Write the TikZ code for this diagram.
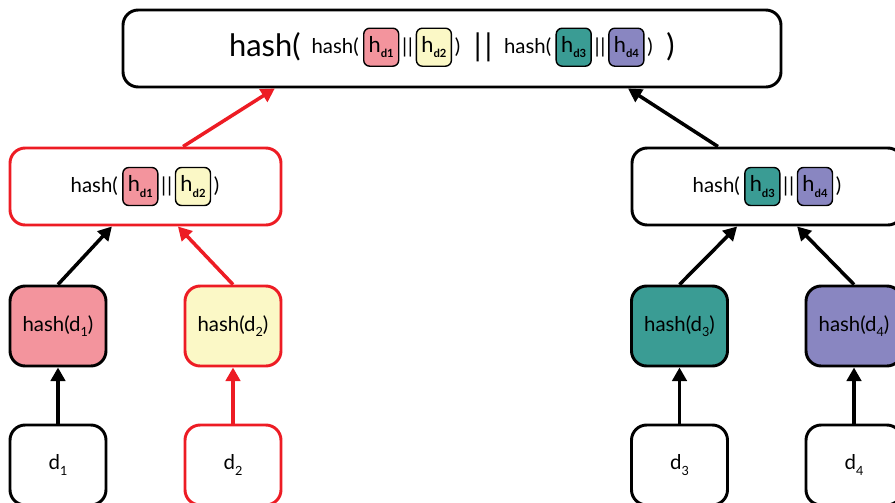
\documentclass[tikz,border=0pt]{standalone}
\usepackage{fontspec}
\setmainfont{Lato}
\usetikzlibrary{positioning,arrows.meta}
\definecolor{hred}{HTML}{ED1C24}
\definecolor{hpink}{HTML}{F3949D}
\definecolor{hyellow}{HTML}{FBF8C6}
\definecolor{hteal}{HTML}{3A9C94}
\definecolor{hpurple}{HTML}{8986C1}
\newcommand{\hdsub}[1]{\raisebox{-0.5ex}{\fontsize{8}{8}\selectfont\bfseries #1}}
\newcommand{\dsub}[1]{\raisebox{-0.5ex}{\fontsize{9}{9}\selectfont #1}}
\newcommand{\bars}{|\kern0.5pt|}

\begin{document}
\begin{tikzpicture}[
        box/.style={draw, line width=2.1pt, rounded corners=0.38cm},
        wide/.style={box, minimum width=6.775cm, minimum height=1.925cm},
        leaf/.style={box, minimum width=2.4cm, minimum height=2cm, font=\fontsize{14.5}{16}\selectfont},
        sm/.style={inner sep=0pt, font=\fontsize{14.5}{16}\selectfont},
        big/.style={inner sep=0pt, font=\fontsize{22}{24}\selectfont},
        hbox/.style={draw, line width=1pt, rounded corners=0.15cm, minimum width=0.875cm, minimum height=0.95cm, inner sep=0pt, font=\fontsize{15.5}{16}\selectfont},
        arr/.style={line width=2.5pt, -{Triangle[length=0.34cm,width=0.36cm]}},
    ]
    \useasboundingbox (0,0) rectangle (22.375,-12.55);

    % boxes
    \node[box, minimum width=16.45cm, minimum height=1.925cm] (root) at (11.3,-1.2125) {};
    \node[wide, draw=hred] (hl) at (3.6375,-4.6625) {};
    \node[wide] (hr) at (19.1875,-4.6625) {};

    \node[leaf, fill=hpink] (h1) at (1.45,-8.15) {hash(d\dsub{1})};
    \node[leaf, fill=hyellow, draw=hred] (h2) at (5.825,-8.15) {hash(d\dsub{2})};
    \node[leaf, fill=hteal] (h3) at (16.9875,-8.15) {hash(d\dsub{3})};
    \node[leaf, fill=hpurple] (h4) at (21.35,-8.15) {hash(d\dsub{4})};

    \node[leaf] (d1) at (1.45,-11.625) {d\dsub{1}};
    \node[leaf, draw=hred] (d2) at (5.825,-11.625) {d\dsub{2}};
    \node[leaf] (d3) at (16.9875,-11.625) {d\dsub{3}};
    \node[leaf] (d4) at (21.35,-11.625) {d\dsub{4}};

    % root text
    \node[big, anchor=west] (t1) at (5.72,-1.18) {hash(};
    \node[sm, right=0.26cm of t1] (t2) {hash(};
    \node[hbox, fill=hpink, right=0.1cm of t2] (t3) {h\hdsub{d1}};
    \node[sm, right=0.06cm of t3] (t4) {\bars};
    \node[hbox, fill=hyellow, right=0.06cm of t4] (t5) {h\hdsub{d2}};
    \node[sm, right=0.06cm of t5] (t6) {)};
    \node[big, right=0.33cm of t6] (t7) {|\kern2pt|};
    \node[sm, right=0.28cm of t7] (t8) {hash(};
    \node[hbox, fill=hteal, right=0.1cm of t8] (t9) {h\hdsub{d3}};
    \node[sm, right=0.06cm of t9] (t10) {\bars};
    \node[hbox, fill=hpurple, right=0.06cm of t10] (t11) {h\hdsub{d4}};
    \node[sm, right=0.06cm of t11] (t12) {)};
    \node[big, right=0.33cm of t12] (t13) {)};

    % left text
    \node[sm, anchor=west] (l1) at (1.76,-4.6625) {hash(};
    \node[hbox, fill=hpink, right=0.1cm of l1] (l2) {h\hdsub{d1}};
    \node[sm, right=0.06cm of l2] (l3) {\bars};
    \node[hbox, fill=hyellow, right=0.06cm of l3] (l4) {h\hdsub{d2}};
    \node[sm, right=0.06cm of l4] (l5) {)};

    % right text
    \node[sm, anchor=west] (r1) at (17.31,-4.6625) {hash(};
    \node[hbox, fill=hteal, right=0.1cm of r1] (r2) {h\hdsub{d3}};
    \node[sm, right=0.06cm of r2] (r3) {\bars};
    \node[hbox, fill=hpurple, right=0.06cm of r3] (r4) {h\hdsub{d4}};
    \node[sm, right=0.06cm of r4] (r5) {)};

    % arrows
    \draw[arr] (d1) -- (h1);
    \draw[arr, hred] (d2) -- (h2);
    \draw[arr] (d3) -- (h3);
    \draw[arr] (d4) -- (h4);
    \draw[arr] (h1.north) -- ([xshift=-0.84cm]hl.south);
    \draw[arr, hred] (h2.north) -- ([xshift=0.81cm]hl.south);
    \draw[arr] (h3.north) -- ([xshift=-0.76cm]hr.south);
    \draw[arr] (h4.north) -- ([xshift=0.74cm]hr.south);
    \draw[arr, hred] ([xshift=0.94cm]hl.north) -- ([xshift=-4.43cm]root.south);
    \draw[arr] ([xshift=-1.24cm]hr.north) -- ([xshift=4.4cm]root.south);
\end{tikzpicture}
\end{document}
